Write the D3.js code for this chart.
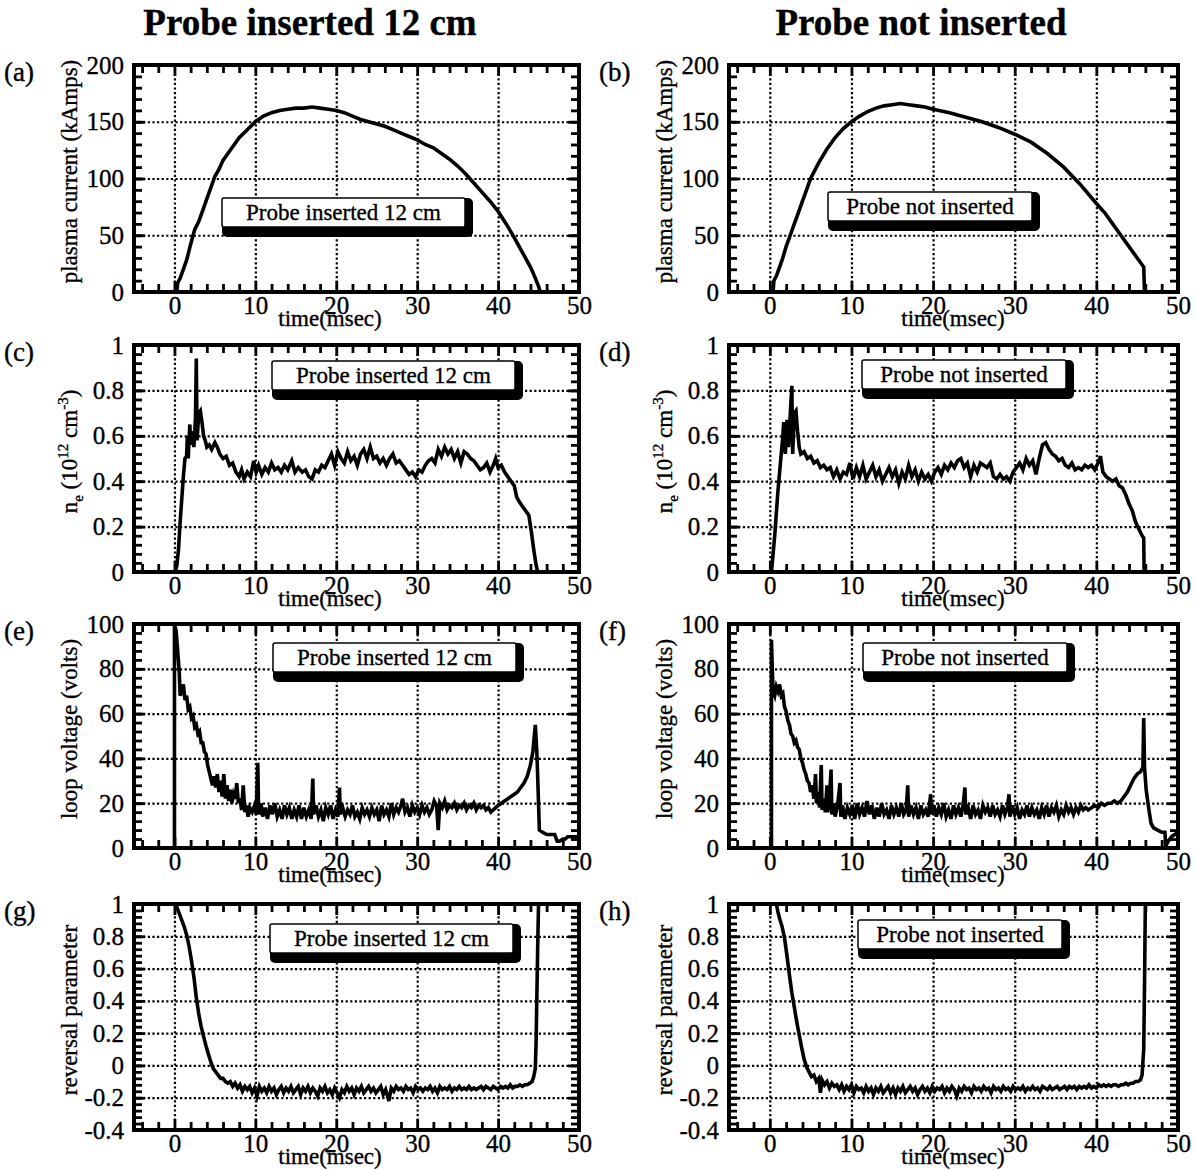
<!DOCTYPE html>
<html>
<head>
<meta charset="utf-8">
<script src="https://cdn.jsdelivr.net/npm/d3@7"></script>
<style>
	body { margin: 0; background: #fff; }
	svg { display: block; background: #fff; }
	text { font-family: "Liberation Serif", "Times New Roman", serif; fill: #000; stroke: #000; stroke-width: 0.35; }
	.tick-label .tick text { font-size: 25px; }
	.grid line { stroke: #000; stroke-width: 2.2; stroke-dasharray: 2.2 2.4; }
	.ticks line { stroke: #000; stroke-width: 2.8; }
</style>
</head>
<body>
<svg></svg>
<script>
const W = 1197, H = 1170;
const svg = d3.select("svg").attr("width", W).attr("height", H);

// ---- data ----
const columnTitles = ["Probe inserted 12 cm", "Probe not inserted"];
const legendTexts = ["Probe inserted 12 cm", "Probe not inserted"];
const panelLetters = ["(a)", "(b)", "(c)", "(d)", "(e)", "(f)", "(g)", "(h)"];
const timeDomain = [-5, 50];
const timeTicks = [0, 10, 20, 30, 40, 50];
const currentTicks = [0, 50, 100, 150, 200];
const densityTicks = [0, 0.2, 0.4, 0.6, 0.8, 1];
const voltageTicks = [0, 20, 40, 60, 80, 100];
const reversalTicks = [-0.4, -0.2, 0, 0.2, 0.4, 0.6, 0.8, 1];

// [time (msec), value]
const currentIns = [[0.3,0],[0.4,8],[0.7,12],[1,18],[1.5,28],[2,42],[2.5,55],[3,62],[3.5,72],[4,82],[4.5,92],[5,102],[5.5,108],[6,116],[7,126],[8,136],[9,143],[10,150],[11,155],[12,158],[13,160],[14,161],[15,162],[16,162],[17,163],[18,162],[19,161],[20,160],[21,158],[22,155],[23,152],[24,150],[25,148],[26,146],[27,143],[28,140],[29,137],[30,134],[31,130],[32,127],[33,122],[34,117],[35,111],[36,104],[37,96],[38,88],[39,80],[40,71],[41,60],[42,48],[43,35],[44,22],[44.5,14],[45,5],[45.2,0]];
const currentNot = [[0.4,0],[0.5,10],[0.8,14],[1,18],[1.5,28],[2,40],[2.5,50],[3,60],[3.5,70],[4,80],[4.5,90],[5,100],[6,114],[7,126],[8,136],[9,144],[10,150],[11,155],[12,159],[13,162],[14,164],[15,165],[16,166],[17,165],[18,164],[19,163],[20,161],[22,158],[24,154],[26,150],[28,145],[30,139],[32,132],[34,122],[36,110],[38,95],[40,78],[41,70],[42,60],[43,50],[44,40],[45,30],[45.8,22],[45.9,0]];

const densityIns = [[0.1,0],[0.3,0.03],[0.5,0.1],[0.7,0.22],[0.9,0.32],[1.1,0.42],[1.3,0.5],[1.5,0.51],[1.6,0.6],[1.7,0.5],[1.9,0.65],[2.0,0.56],[2.2,0.62],[2.4,0.55],[2.6,0.68],[2.7,0.94],[2.8,0.58],[3.0,0.7],[3.2,0.71],[3.4,0.66],[3.6,0.6],[3.8,0.58],[4.0,0.55],[4.3,0.56],[4.6,0.54],[5.0,0.57],[5.3,0.55],[5.6,0.52],[6.0,0.5],[6.4,0.51],[6.8,0.47],[7.2,0.48],[7.6,0.44],[8.0,0.42],[8.3,0.45],[8.6,0.41],[9.0,0.44],[9.4,0.42],[9.8,0.49],[10.1,0.44],[10.4,0.47],[10.8,0.43],[11.2,0.46],[11.6,0.44],[12.0,0.48],[12.4,0.45],[12.8,0.46],[13.2,0.44],[13.6,0.47],[14.0,0.45],[14.5,0.49],[14.9,0.44],[15.3,0.46],[15.8,0.44],[16.2,0.45],[16.6,0.42],[17.0,0.41],[17.4,0.45],[17.8,0.44],[18.2,0.47],[18.6,0.46],[19.0,0.49],[19.4,0.52],[19.8,0.47],[20.2,0.53],[20.6,0.5],[21.0,0.48],[21.4,0.53],[21.8,0.49],[22.2,0.51],[22.6,0.47],[23.0,0.52],[23.4,0.54],[23.8,0.5],[24.2,0.55],[24.6,0.5],[25.0,0.51],[25.4,0.48],[25.8,0.5],[26.2,0.47],[26.6,0.5],[27.0,0.52],[27.4,0.48],[27.8,0.49],[28.2,0.47],[28.6,0.45],[29.0,0.43],[29.4,0.44],[29.8,0.42],[30.2,0.45],[30.6,0.44],[31.0,0.47],[31.4,0.49],[31.8,0.5],[32.2,0.48],[32.6,0.54],[33.0,0.51],[33.4,0.55],[33.8,0.52],[34.2,0.54],[34.6,0.5],[35.0,0.53],[35.4,0.48],[35.8,0.53],[36.2,0.52],[36.6,0.5],[37.0,0.49],[37.4,0.47],[37.8,0.45],[38.2,0.46],[38.6,0.48],[39.0,0.44],[39.4,0.47],[39.7,0.5],[40.0,0.46],[40.4,0.47],[40.8,0.44],[41.2,0.42],[41.6,0.4],[42.0,0.38],[42.3,0.33],[42.6,0.31],[43.0,0.29],[43.4,0.27],[43.8,0.25],[44.1,0.18],[44.4,0.1],[44.7,0.03],[44.9,0]];
const densityNot = [[0.2,0],[0.4,0.08],[0.6,0.16],[0.8,0.26],[1.0,0.36],[1.2,0.44],[1.4,0.52],[1.6,0.6],[1.7,0.66],[1.9,0.52],[2.1,0.67],[2.3,0.55],[2.5,0.69],[2.7,0.82],[2.8,0.52],[3.0,0.7],[3.2,0.71],[3.4,0.62],[3.6,0.55],[3.8,0.52],[4.2,0.53],[4.6,0.5],[5.0,0.51],[5.4,0.48],[5.8,0.49],[6.2,0.46],[6.6,0.47],[7.0,0.45],[7.4,0.46],[7.8,0.42],[8.2,0.45],[8.6,0.41],[9.0,0.44],[9.4,0.43],[9.8,0.48],[10.2,0.41],[10.6,0.46],[11.0,0.42],[11.4,0.47],[11.8,0.41],[12.2,0.44],[12.6,0.47],[13.0,0.42],[13.4,0.45],[13.8,0.4],[14.2,0.43],[14.6,0.46],[15.0,0.42],[15.4,0.45],[15.8,0.39],[16.2,0.44],[16.6,0.41],[17.0,0.47],[17.4,0.42],[17.8,0.45],[18.2,0.4],[18.6,0.44],[19.0,0.41],[19.4,0.43],[19.8,0.4],[20.2,0.44],[20.6,0.46],[21.0,0.43],[21.4,0.47],[21.8,0.45],[22.2,0.48],[22.6,0.46],[23.0,0.49],[23.4,0.5],[23.8,0.46],[24.2,0.48],[24.6,0.42],[25.0,0.47],[25.4,0.44],[25.8,0.48],[26.2,0.47],[26.6,0.46],[27.0,0.48],[27.4,0.42],[27.8,0.41],[28.2,0.43],[28.6,0.41],[29.0,0.42],[29.4,0.4],[29.8,0.44],[30.2,0.46],[30.6,0.48],[31.0,0.45],[31.4,0.5],[31.8,0.47],[32.2,0.49],[32.6,0.43],[33.0,0.5],[33.4,0.56],[33.8,0.57],[34.2,0.54],[34.6,0.52],[35.0,0.51],[35.4,0.49],[35.8,0.5],[36.2,0.47],[36.6,0.46],[37.0,0.48],[37.4,0.45],[37.8,0.46],[38.2,0.45],[38.6,0.47],[39.0,0.46],[39.4,0.47],[39.8,0.45],[40.2,0.48],[40.5,0.51],[40.8,0.44],[41.2,0.42],[41.6,0.41],[42.0,0.4],[42.4,0.41],[42.8,0.38],[43.2,0.37],[43.6,0.34],[44.0,0.3],[44.4,0.27],[44.8,0.22],[45.2,0.19],[45.6,0.16],[45.8,0.15],[45.85,0]];

const voltageIns = [[0,0],[0,100],[0.2,97],[0.4,88],[0.6,78],[0.7,68],[0.9,70],[1.1,73],[1.3,66],[1.5,68],[1.7,62],[1.9,63],[2.1,58],[2.3,59],[2.5,54],[2.7,55],[2.9,51],[3.1,52],[3.3,47],[3.5,47],[3.7,43],[3.9,42],[4.1,37],[4.3,34],[4.5,31],[4.7,28],[4.9,32],[5.1,27],[5.3,33],[5.5,25],[5.7,30],[5.9,23],[6.1,33],[6.3,22],[6.5,28],[6.7,21],[6.9,26],[7.1,20],[7.3,24],[7.5,22],[7.7,29],[7.9,20],[8.1,22],[8.3,17],[8.5,28],[8.7,16],[8.9,19],[9.1,14],[9.3,18],[9.6,16],[9.9,19],[10.1,15],[10.3,38],[10.4,15],[10.7,20],[10.9,14],[11.2,18],[11.5,13],[11.8,19],[12.1,15],[12.4,20],[12.7,14],[13.0,17],[13.3,13],[13.6,19],[13.9,15],[14.2,18],[14.5,13],[14.8,17],[15.1,14],[15.4,19],[15.7,13],[16.0,18],[16.3,14],[16.6,17],[16.9,13],[17.1,31],[17.2,15],[17.5,19],[17.8,14],[18.1,17],[18.4,12],[18.7,18],[19.0,15],[19.3,19],[19.6,13],[19.9,17],[20.2,14],[20.4,27],[20.5,15],[20.8,18],[21.1,14],[21.4,17],[21.7,15],[22.0,19],[22.3,14],[22.6,16],[22.9,13],[23.2,18],[23.5,15],[23.8,17],[24.1,14],[24.4,18],[24.7,15],[25.0,17],[25.3,12],[25.6,19],[25.9,15],[26.2,17],[26.5,14],[26.8,20],[27.1,15],[27.4,18],[27.7,16],[28.0,19],[28.2,22],[28.5,16],[28.8,18],[29.1,14],[29.4,19],[29.7,16],[30.0,18],[30.3,15],[30.6,19],[30.9,16],[31.2,18],[31.5,15],[31.8,17],[32.1,21],[32.4,19],[32.6,8],[32.8,20],[33.1,18],[33.4,21],[33.7,17],[34.0,19],[34.3,18],[34.6,20],[34.9,17],[35.2,19],[35.5,18],[35.8,20],[36.1,17],[36.4,19],[36.7,18],[37.0,20],[37.3,17],[37.6,19],[37.9,18],[38.2,19],[38.5,17],[38.8,18],[39.1,16],[39.4,17],[39.7,18],[40.0,19],[40.4,20],[40.8,21],[41.2,22],[41.6,23],[42.0,24],[42.4,25],[42.8,27],[43.2,29],[43.6,32],[44.0,37],[44.3,43],[44.6,55],[44.8,42],[45.0,20],[45.1,8],[45.5,7],[46.0,6],[46.5,6],[47.0,6],[47.3,3],[47.6,3],[48.0,4],[48.3,4],[48.6,5],[49.0,5],[49.5,5],[50,5]];
const voltageNot = [[0.2,0],[0.2,93],[0.3,80],[0.4,70],[0.6,68],[0.8,72],[1.0,70],[1.2,73],[1.4,68],[1.6,69],[1.8,63],[2.0,61],[2.2,57],[2.4,55],[2.6,51],[2.8,50],[3.0,47],[3.2,48],[3.4,45],[3.6,44],[3.8,40],[4.0,38],[4.2,35],[4.4,33],[4.6,30],[4.8,29],[5.0,25],[5.2,28],[5.4,22],[5.6,33],[5.7,20],[5.9,25],[6.1,18],[6.3,37],[6.4,17],[6.6,22],[6.8,16],[7.0,28],[7.1,16],[7.3,22],[7.5,35],[7.6,15],[7.8,20],[8.0,14],[8.3,19],[8.6,29],[8.7,14],[8.9,19],[9.2,13],[9.5,18],[9.8,15],[10.1,19],[10.4,13],[10.7,20],[11.0,15],[11.3,18],[11.6,14],[11.9,21],[12.2,15],[12.5,19],[12.8,13],[13.1,18],[13.4,14],[13.7,20],[14.0,15],[14.3,17],[14.6,13],[14.9,19],[15.2,15],[15.5,18],[15.8,14],[16.1,20],[16.4,15],[16.7,17],[16.9,28],[17.0,14],[17.3,19],[17.6,15],[17.9,18],[18.2,13],[18.5,19],[18.8,15],[19.1,17],[19.4,14],[19.7,24],[19.8,15],[20.1,19],[20.4,14],[20.7,18],[21.0,15],[21.3,20],[21.6,14],[21.9,17],[22.2,13],[22.5,19],[22.8,15],[23.1,18],[23.4,14],[23.7,20],[23.9,27],[24.0,15],[24.3,18],[24.6,13],[24.9,19],[25.2,15],[25.5,17],[25.8,13],[26.1,19],[26.4,16],[26.7,18],[27.0,14],[27.3,19],[27.6,15],[27.9,17],[28.2,14],[28.5,19],[28.8,15],[29.1,18],[29.3,24],[29.4,14],[29.7,19],[30.0,15],[30.3,18],[30.6,13],[30.9,17],[31.2,15],[31.5,19],[31.8,14],[32.1,18],[32.4,15],[32.7,17],[33.0,13],[33.3,18],[33.6,15],[33.9,19],[34.2,14],[34.5,18],[34.8,16],[35.1,19],[35.4,14],[35.7,17],[36.0,15],[36.3,19],[36.6,16],[36.9,18],[37.2,15],[37.5,18],[37.8,16],[38.1,19],[38.4,17],[38.7,18],[39.0,17],[39.4,18],[39.8,19],[40.2,18],[40.6,20],[41.0,19],[41.4,20],[41.8,20],[42.2,21],[42.6,20],[43.0,21],[43.4,23],[43.8,25],[44.2,28],[44.6,31],[45.0,33],[45.4,34],[45.7,36],[45.8,58],[45.9,36],[46.1,26],[46.4,18],[46.7,11],[47.0,9],[47.5,8],[48.0,7],[48.4,7],[48.5,1],[48.8,3],[49.2,5],[49.6,6],[50,7]];

const reversalIns = [[0,1],[0.3,0.98],[0.6,0.94],[0.9,0.9],[1.2,0.86],[1.5,0.81],[1.8,0.74],[2.1,0.65],[2.4,0.55],[2.7,0.42],[3.0,0.32],[3.3,0.24],[3.6,0.18],[3.9,0.12],[4.2,0.07],[4.5,0.02],[4.8,-0.02],[5.1,-0.04],[5.4,-0.06],[5.7,-0.08],[6.0,-0.08],[6.3,-0.1],[6.6,-0.11],[6.9,-0.1],[7.2,-0.13],[7.5,-0.11],[7.8,-0.14],[8.1,-0.12],[8.4,-0.16],[8.7,-0.13],[9.0,-0.15],[9.3,-0.13],[9.6,-0.17],[9.9,-0.14],[10.2,-0.19],[10.5,-0.13],[10.8,-0.16],[11.1,-0.14],[11.4,-0.17],[11.7,-0.13],[12.0,-0.16],[12.3,-0.14],[12.6,-0.18],[12.9,-0.15],[13.2,-0.13],[13.5,-0.17],[13.8,-0.14],[14.1,-0.16],[14.4,-0.13],[14.7,-0.17],[15.0,-0.15],[15.3,-0.13],[15.6,-0.18],[15.9,-0.14],[16.2,-0.16],[16.5,-0.13],[16.8,-0.17],[17.1,-0.14],[17.4,-0.16],[17.7,-0.19],[18.0,-0.14],[18.3,-0.16],[18.6,-0.13],[18.9,-0.17],[19.2,-0.15],[19.5,-0.18],[19.8,-0.14],[20.1,-0.17],[20.4,-0.2],[20.7,-0.15],[21.0,-0.17],[21.3,-0.13],[21.6,-0.16],[21.9,-0.14],[22.2,-0.18],[22.5,-0.14],[22.8,-0.16],[23.1,-0.13],[23.4,-0.17],[23.7,-0.15],[24.0,-0.13],[24.3,-0.16],[24.6,-0.14],[24.9,-0.17],[25.2,-0.15],[25.5,-0.13],[25.8,-0.18],[26.1,-0.15],[26.5,-0.22],[26.8,-0.14],[27.1,-0.16],[27.4,-0.13],[27.7,-0.15],[28.0,-0.14],[28.3,-0.16],[28.6,-0.13],[28.9,-0.15],[29.2,-0.14],[29.5,-0.17],[29.8,-0.13],[30.1,-0.15],[30.4,-0.14],[30.7,-0.16],[31.0,-0.14],[31.3,-0.15],[31.6,-0.13],[31.9,-0.16],[32.2,-0.14],[32.5,-0.17],[32.8,-0.13],[33.1,-0.15],[33.4,-0.14],[33.7,-0.15],[34.0,-0.13],[34.3,-0.16],[34.6,-0.14],[34.9,-0.15],[35.2,-0.13],[35.5,-0.15],[35.8,-0.14],[36.1,-0.15],[36.4,-0.13],[36.7,-0.15],[37.0,-0.14],[37.3,-0.15],[37.6,-0.14],[37.9,-0.13],[38.2,-0.15],[38.5,-0.13],[38.8,-0.14],[39.1,-0.15],[39.4,-0.13],[39.7,-0.14],[40.0,-0.15],[40.3,-0.13],[40.6,-0.14],[40.9,-0.13],[41.2,-0.14],[41.5,-0.12],[41.8,-0.14],[42.1,-0.13],[42.4,-0.13],[42.7,-0.12],[43.0,-0.13],[43.3,-0.12],[43.6,-0.12],[43.9,-0.11],[44.2,-0.1],[44.4,-0.07],[44.6,-0.02],[44.7,0.15],[44.8,0.45],[44.9,0.75],[45.0,1.0]];
const reversalNot = [[0,1],[0.8,1],[1.0,0.95],[1.2,0.91],[1.5,0.86],[1.8,0.79],[2.1,0.68],[2.4,0.56],[2.7,0.45],[3.0,0.36],[3.3,0.27],[3.6,0.19],[3.9,0.11],[4.2,0.04],[4.5,-0.01],[4.8,-0.04],[5.1,-0.07],[5.4,-0.06],[5.7,-0.1],[6.0,-0.08],[6.2,-0.17],[6.4,-0.09],[6.7,-0.12],[7.0,-0.1],[7.3,-0.14],[7.6,-0.11],[7.9,-0.13],[8.2,-0.12],[8.5,-0.15],[8.8,-0.12],[9.1,-0.16],[9.4,-0.13],[9.7,-0.15],[10.0,-0.12],[10.3,-0.17],[10.6,-0.13],[10.9,-0.15],[11.2,-0.14],[11.5,-0.17],[11.8,-0.13],[12.1,-0.16],[12.4,-0.14],[12.7,-0.18],[13.0,-0.14],[13.3,-0.16],[13.6,-0.13],[13.9,-0.17],[14.2,-0.15],[14.5,-0.13],[14.8,-0.17],[15.1,-0.14],[15.4,-0.18],[15.7,-0.14],[16.0,-0.16],[16.3,-0.13],[16.6,-0.17],[16.9,-0.15],[17.2,-0.13],[17.5,-0.16],[17.8,-0.14],[18.1,-0.18],[18.4,-0.15],[18.7,-0.13],[19.0,-0.16],[19.3,-0.14],[19.6,-0.17],[19.9,-0.13],[20.2,-0.16],[20.5,-0.14],[20.8,-0.15],[21.1,-0.13],[21.4,-0.17],[21.7,-0.14],[22.0,-0.16],[22.3,-0.13],[22.6,-0.15],[22.9,-0.19],[23.2,-0.14],[23.5,-0.16],[23.8,-0.13],[24.1,-0.15],[24.4,-0.14],[24.7,-0.17],[25.0,-0.13],[25.3,-0.15],[25.6,-0.14],[25.9,-0.16],[26.2,-0.13],[26.5,-0.15],[26.8,-0.14],[27.1,-0.17],[27.4,-0.13],[27.7,-0.15],[28.0,-0.14],[28.3,-0.16],[28.6,-0.13],[28.9,-0.15],[29.2,-0.14],[29.5,-0.16],[29.8,-0.13],[30.1,-0.15],[30.4,-0.14],[30.7,-0.15],[31.0,-0.13],[31.3,-0.16],[31.6,-0.14],[31.9,-0.15],[32.2,-0.13],[32.5,-0.15],[32.8,-0.14],[33.1,-0.16],[33.4,-0.13],[33.7,-0.14],[34.0,-0.15],[34.3,-0.13],[34.6,-0.15],[34.9,-0.14],[35.2,-0.13],[35.5,-0.15],[35.8,-0.14],[36.1,-0.13],[36.4,-0.15],[36.7,-0.13],[37.0,-0.14],[37.3,-0.13],[37.6,-0.15],[37.9,-0.13],[38.2,-0.14],[38.5,-0.13],[38.8,-0.14],[39.1,-0.12],[39.4,-0.14],[39.7,-0.13],[40.0,-0.14],[40.3,-0.12],[40.6,-0.13],[40.9,-0.12],[41.2,-0.13],[41.5,-0.12],[41.8,-0.13],[42.1,-0.12],[42.4,-0.12],[42.7,-0.13],[43.0,-0.12],[43.3,-0.12],[43.6,-0.11],[43.9,-0.12],[44.2,-0.11],[44.5,-0.11],[44.8,-0.1],[45.1,-0.1],[45.4,-0.09],[45.6,-0.06],[45.8,0.1],[45.9,0.5],[46.0,1.0]];

// ---- layout ----
const cols = [
	{ left: 134, right: 579, titleX: 310, letterX: 4, timeLabelX: 330, legendW: 243 },
	{ left: 729, right: 1178, titleX: 921, letterX: 599, timeLabelX: 953, legendW: 204 },
];
const rows = [
	{ top: 65, bottom: 292, domain: [0, 200], ticks: currentTicks, minor: 10, label: "plasma current (kAmps)", series: [currentIns, currentNot] },
	{ top: 345, bottom: 572, domain: [0, 1], ticks: densityTicks, minor: 0.04, label: null, series: [densityIns, densityNot] },
	{ top: 624, bottom: 848, domain: [0, 100], ticks: voltageTicks, minor: 4, label: "loop voltage (volts)", series: [voltageIns, voltageNot] },
	{ top: 904, bottom: 1130, domain: [-0.4, 1], ticks: reversalTicks, minor: 0.04, label: "reversal parameter", series: [reversalIns, reversalNot] },
];
// legend box offsets from the plot's top-left corner
const legendOffsets = [[88, 133], [99, 127], [138, 16], [133, 15], [139, 19], [134, 19], [136, 20], [129, 16]];

// column titles
cols.forEach((c, i) => {
	svg.append("text")
		.attr("x", c.titleX)
		.attr("y", 35)
		.attr("text-anchor", "middle")
		.attr("font-size", 37)
		.attr("font-weight", "bold")
		.text(columnTitles[i]);
});

rows.forEach((r, ri) => {
	cols.forEach((c, ci) => drawPanel(r, c, ri, ci));
});

function stepRange(lo, hi, step) {
	const n = Math.round((hi - lo) / step);
	return d3.range(n + 1).map((i) => +(lo + i * step).toFixed(6));
}

function drawPanel(r, c, ri, ci) {
	const idx = ri * 2 + ci;
	const w = c.right - c.left;
	const h = r.bottom - r.top;
	const scaleX = d3.scaleLinear().domain(timeDomain).range([c.left, c.right]);
	const scaleY = d3.scaleLinear().domain(r.domain).range([r.bottom, r.top]);
	const g = svg.append("g");

	const clipId = "clip" + idx;
	g.append("clipPath").attr("id", clipId)
		.append("rect").attr("x", c.left).attr("y", r.top).attr("width", w).attr("height", h);

	// dotted grid
	const gridX = timeTicks.filter((t) => t > timeDomain[0] && t < timeDomain[1]);
	const gridY = r.ticks.filter((t) => t > r.domain[0] && t < r.domain[1]);
	g.append("g").attr("class", "grid")
		.attr("transform", `translate(0, ${r.bottom})`)
		.call(d3.axisBottom(scaleX).tickValues(gridX).tickSize(-h).tickFormat(""))
		.call((s) => s.select(".domain").remove());
	g.append("g").attr("class", "grid")
		.attr("transform", `translate(${c.left}, 0)`)
		.call(d3.axisLeft(scaleY).tickValues(gridY).tickSize(-w).tickFormat(""))
		.call((s) => s.select(".domain").remove());

	// inward ticks on all four sides
	const minorX = stepRange(-4, 48, 2).filter((t) => t % 10 !== 0);
	const minorY = stepRange(r.domain[0], r.domain[1], r.minor);
	const sides = [
		[d3.axisBottom, `translate(0, ${r.bottom})`, scaleX, timeTicks, minorX],
		[d3.axisTop, `translate(0, ${r.top})`, scaleX, timeTicks, minorX],
		[d3.axisLeft, `translate(${c.left}, 0)`, scaleY, r.ticks, minorY],
		[d3.axisRight, `translate(${c.right}, 0)`, scaleY, r.ticks, minorY],
	];
	sides.forEach(([axis, tr, sc, major, minor]) => {
		g.append("g").attr("class", "ticks").attr("transform", tr)
			.call(axis(sc).tickValues(minor).tickSize(-8).tickFormat(""))
			.call((s) => s.select(".domain").remove());
		g.append("g").attr("class", "ticks").attr("transform", tr)
			.call(axis(sc).tickValues(major).tickSize(-11).tickFormat(""))
			.call((s) => s.select(".domain").remove());
	});

	// tick labels
	g.append("g").attr("class", "tick-label")
		.attr("transform", `translate(0, ${r.bottom})`)
		.call(d3.axisBottom(scaleX).tickValues(timeTicks).tickSize(0).tickPadding(4).tickFormat((d) => String(d)))
		.call((s) => s.select(".domain").remove());
	g.append("g").attr("class", "tick-label")
		.attr("transform", `translate(${c.left}, 0)`)
		.call(d3.axisLeft(scaleY).tickValues(r.ticks).tickSize(0).tickPadding(10).tickFormat((d) => String(d)))
		.call((s) => s.select(".domain").remove());

	// curve
	const line = d3.line().x((d) => scaleX(d[0])).y((d) => scaleY(d[1]));
	g.append("path")
		.datum(r.series[ci])
		.attr("clip-path", `url(#${clipId})`)
		.attr("d", line)
		.attr("fill", "none")
		.attr("stroke", "#000")
		.attr("stroke-width", 3.6);

	// frame
	g.append("rect")
		.attr("x", c.left).attr("y", r.top)
		.attr("width", w).attr("height", h)
		.attr("fill", "none").attr("stroke", "#000").attr("stroke-width", 4);

	// legend box with shadow
	const [lx, ly] = legendOffsets[idx];
	const bx = c.left + lx, by = r.top + ly, bw = c.legendW, bh = 29;
	g.append("rect")
		.attr("x", bx).attr("y", by)
		.attr("width", bw + 8).attr("height", bh + 10)
		.attr("rx", 5).attr("fill", "#000");
	g.append("rect")
		.attr("x", bx).attr("y", by)
		.attr("width", bw).attr("height", bh)
		.attr("rx", 2).attr("fill", "#fff").attr("stroke", "#000").attr("stroke-width", 1.5);
	g.append("text")
		.attr("x", bx + bw / 2).attr("y", by + 22)
		.attr("text-anchor", "middle")
		.attr("font-size", 23)
		.text(legendTexts[ci]);

	// x label
	g.append("text")
		.attr("x", c.timeLabelX).attr("y", r.bottom + 34)
		.attr("text-anchor", "middle")
		.attr("font-size", 23)
		.text("time(msec)");

	// y label
	const yl = g.append("text")
		.attr("transform", `translate(${c.left - 57}, ${(r.top + r.bottom) / 2 - 7}) rotate(-90)`)
		.attr("text-anchor", "middle")
		.attr("font-size", 23);
	if (r.label) {
		yl.text(r.label);
	} else {
		yl.append("tspan").text("n");
		yl.append("tspan").attr("font-size", 15).attr("dy", 6).text("e");
		yl.append("tspan").attr("dy", -6).text(" (10");
		yl.append("tspan").attr("font-size", 15).attr("dy", -9).text("12");
		yl.append("tspan").attr("dy", 9).text(" cm");
		yl.append("tspan").attr("font-size", 15).attr("dy", -9).text("-3");
		yl.append("tspan").attr("dy", 9).text(")");
	}

	// panel letter
	g.append("text")
		.attr("x", c.letterX).attr("y", r.top + 16)
		.attr("font-size", 27)
		.text(panelLetters[idx]);
}
</script>
</body>
</html>
